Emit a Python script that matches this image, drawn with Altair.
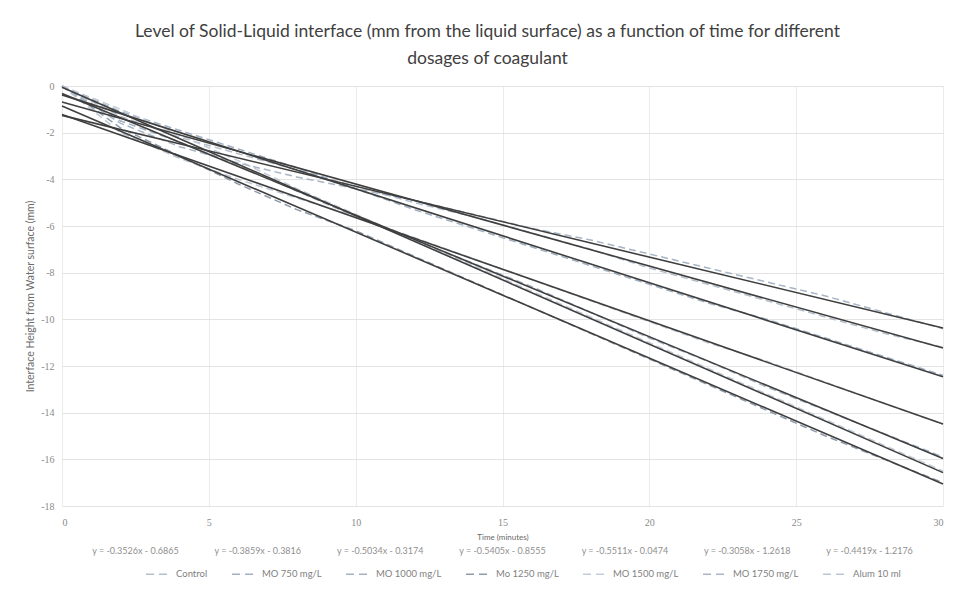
import altair as alt
import pandas as pd

# ---------------- data ----------------
series_names = ["Control", "MO 750 mg/L", "MO 1000 mg/L", "Mo 1250 mg/L",
                "MO 1500 mg/L", "MO 1750 mg/L", "Alum 10 ml"]

times = [0, 2, 4, 6, 8, 10, 12, 14, 16, 18, 20, 22, 24, 26, 28, 30]

control = [0, -1.3, -2.2, -2.9, -3.6, -4.3, -5.0, -5.6, -6.3, -7.0, -7.8, -8.5, -9.2, -9.9, -10.6, -11.2]
mo750 = [0, -1.1, -1.9, -2.7, -3.5, -4.4, -5.3, -6.1, -6.9, -7.7, -8.5, -9.3, -10.0, -10.8, -11.6, -12.4]
mo1000 = [0, -1.5, -2.4, -3.4, -4.5, -5.6, -6.6, -7.6, -8.6, -9.7, -10.8, -11.8, -12.9, -13.9, -14.9, -15.9]
mo1250 = [0, -1.8, -3.0, -4.2, -5.3, -6.2, -7.3, -8.4, -9.5, -10.6, -11.7, -12.8, -13.9, -15.0, -16.0, -17.0]
mo1500 = [0, -1.0, -2.1, -3.2, -4.4, -5.5, -6.6, -7.7, -8.8, -9.9, -11.0, -12.1, -13.2, -14.3, -15.4, -16.5]
mo1750 = [0, -1.6, -2.6, -3.3, -3.9, -4.4, -4.9, -5.5, -6.1, -6.6, -7.2, -7.8, -8.4, -9.0, -9.7, -10.4]
alum = [0, -2.0, -3.1, -4.0, -4.8, -5.6, -6.5, -7.4, -8.3, -9.2, -10.1, -11.0, -11.8, -12.7, -13.6, -14.5]

series_values = [control, mo750, mo1000, mo1250, mo1500, mo1750, alum]

# linear trend lines: value at t=0 and at t=30
trend_times = [0, 30]
trend_start = [-0.69, -0.38, -0.32, -0.86, -0.05, -1.26, -1.22]
trend_end = [-11.23, -12.46, -15.96, -17.06, -16.57, -10.37, -14.49]

equations = ["y = -0.3526x - 0.6865", "y = -0.3859x - 0.3816", "y = -0.5034x - 0.3174",
             "y = -0.5405x - 0.8555", "y = -0.5511x - 0.0474", "y = -0.3058x - 1.2618",
             "y = -0.4419x - 1.2176"]

x_ticks = [0, 5, 10, 15, 20, 25, 30]
y_ticks = [0, -2, -4, -6, -8, -10, -12, -14, -16, -18]

series_colors = ["#b4bfcc", "#9fb0c3", "#a4b2c2", "#8e9bab", "#c3ccd7", "#a7b5c5", "#bcc6d2"]

# ---------------- tables ----------------
rows = []
for name, vals in zip(series_names, series_values):
    for t, v in zip(times, vals):
        rows.append({"series": name, "time": t, "value": v})
df = pd.DataFrame(rows)

trows = []
for name, a, b in zip(series_names, trend_start, trend_end):
    trows.append({"series": name, "time": trend_times[0], "value": a})
    trows.append({"series": name, "time": trend_times[1], "value": b})
tdf = pd.DataFrame(trows)

edf = pd.DataFrame({"idx": list(range(len(equations))), "eq": equations})

W, H = 881, 420

x_scale = alt.Scale(domain=[0, 30], nice=False, zero=False)
y_scale = alt.Scale(domain=[-18, 0], nice=False, zero=False)

x_enc = alt.X("time:Q", scale=x_scale,
              axis=alt.Axis(values=x_ticks, title="Time (minutes)", grid=True,
                            gridColor="#e6e6e6", gridWidth=0.8, domain=False, ticks=False,
                            labelFont="Liberation Serif", labelFontSize=10,
                            labelColor="#8a8a8a", labelPadding=11,
                            titleFontSize=8, titleColor="#6a6a6a", titleFontWeight="normal",
                            titlePadding=6))
y_enc = alt.Y("value:Q", scale=y_scale,
              axis=alt.Axis(values=y_ticks, title="Interface Height from Water surface (mm)",
                            labelExpr="datum.value + ''", grid=True, gridColor="#dcdcdc",
                            gridWidth=0.8, domain=False, ticks=False,
                            labelFont="Liberation Serif", labelFontSize=10,
                            labelColor="#8a8a8a", labelPadding=8, titleFontSize=10.5,
                            titleColor="#6a6a6a", titleFontWeight="normal", titlePadding=5))

data_layer = alt.Chart(df).mark_line(strokeDash=[7, 4], strokeWidth=1.5).encode(
    x=x_enc,
    y=y_enc,
    color=alt.Color("series:N", sort=series_names,
                    scale=alt.Scale(domain=series_names, range=series_colors),
                    legend=alt.Legend(orient="none", legendX=83, legendY=476,
                                      direction="horizontal", title=None,
                                      symbolType="stroke", symbolSize=480,
                                      symbolDash=[8, 5], symbolStrokeWidth=1.5,
                                      labelFontSize=9.5, labelColor="#7f7f7f",
                                      labelOffset=7, columnPadding=21)),
    order="time:Q",
)

trend_layer = alt.Chart(tdf).mark_line(color="#3f3f3f", strokeWidth=1.6).encode(
    x=alt.X("time:Q", scale=x_scale, axis=None),
    y=alt.Y("value:Q", scale=y_scale),
    detail="series:N",
)

eq_layer = alt.Chart(edf).mark_text(fontSize=9, color="#8f8f8f", baseline="middle").encode(
    x=alt.X("idx:O", axis=None, scale=alt.Scale(type="point", padding=0.6)),
    y=alt.value(465),
    text="eq:N",
)

chart = alt.layer(data_layer, trend_layer, eq_layer).resolve_scale(
    x="independent"
).properties(
    width=W,
    height=H,
    title=alt.TitleParams(
        ["Level of Solid-Liquid interface (mm from the liquid surface) as a function of time for different",
         "dosages of coagulant"],
        fontSize=17.5, font="Lato", fontWeight="normal", color="#404040",
        lineHeight=27, offset=14, anchor="middle", dx=-15),
    autosize=alt.AutoSizeParams(type="none"),
    padding={"left": 54, "top": 78, "right": 4, "bottom": 74},
    background="white",
).configure(font="Lato").configure_view(stroke=None)

chart.save("out.html", embed_options={"renderer": "svg", "actions": False})
